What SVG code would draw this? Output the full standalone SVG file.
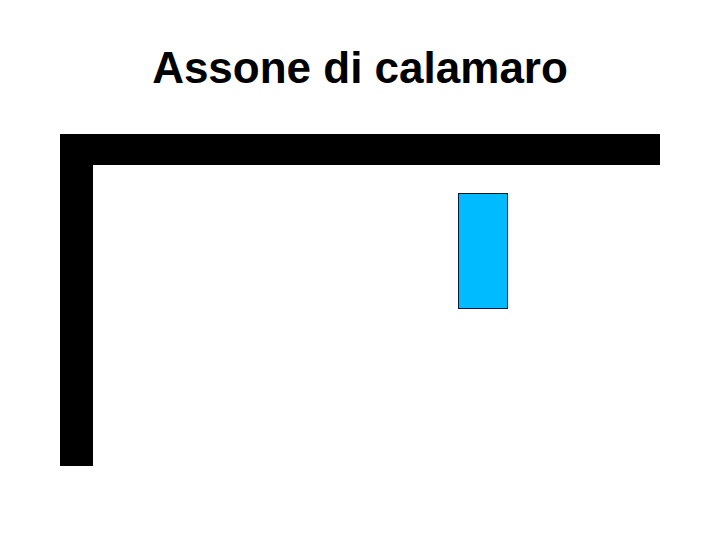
<svg xmlns="http://www.w3.org/2000/svg" width="720" height="540" viewBox="0 0 720 540">
<style>
.title{font-family:"Liberation Sans",Arial,sans-serif;font-weight:bold;font-size:44px;fill:#000}
.wall{fill:#000}
.block{fill:#00BBFF;stroke:#0A1A3A;stroke-width:1}
</style>
<rect width="720" height="540" fill="#fff"/>
<text class="title" x="360" y="83" text-anchor="middle">Assone di calamaro</text>
<g id="frame">
<rect class="wall" x="60" y="134" width="600" height="31"/>
<rect class="wall" x="60" y="134" width="33" height="332"/>
</g>
<g id="axon">
<rect class="block" x="458.5" y="193.5" width="49" height="115"/>
</g>
<g id="connectors"></g>
</svg>
